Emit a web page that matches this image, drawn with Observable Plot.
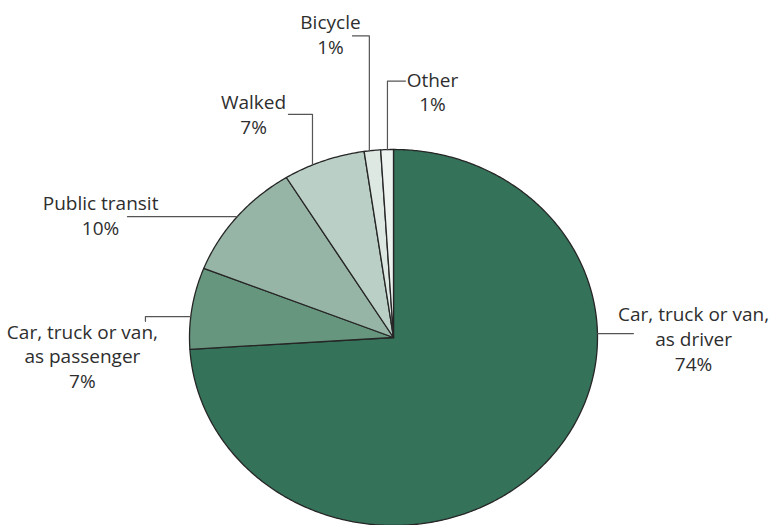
<!DOCTYPE html>
<html>
<head>
<meta charset="utf-8">
<script src="https://cdn.jsdelivr.net/npm/d3@7"></script>
<script src="https://cdn.jsdelivr.net/npm/@observablehq/plot@0.6"></script>
<style>
  html, body { margin: 0; padding: 0; background: #fff; }
  #chart svg { display: block; }
</style>
</head>
<body>
<div id="chart"></div>
<script>
// ---- data ----
const categories = [
  "Car, truck or van, as driver",
  "Car, truck or van, as passenger",
  "Public transit",
  "Walked",
  "Bicycle",
  "Other"
];
const shares = [74, 7, 10.2, 6.5, 1.3, 1.0];          // percent (estimated)
const shareLabels = ["74%", "7%", "10%", "7%", "1%", "1%"];
const labelNames = [
  "Car, truck or van,\nas driver",
  "Car, truck or van,\nas passenger",
  "Public transit",
  "Walked",
  "Bicycle",
  "Other"
];
const colors = ["#34725a", "#67967f", "#97b5a6", "#bacfc5", "#dde8e3", "#eef3f0"];

// ---- layout (data units: radius = 1) ----
const W = 771, H = 525;
const cx = 393, cy = 337, rx = 204, ry = 188;
// leader attach angle (deg, clockwise from top) and path after it; label centre
const leaders = [
  {angle: 88.8,  path: [[1.176, null]],              label: [1.471, -0.004]},
  {angle: 276.4, path: [[-1.216, null], [-1.216, 0.086]], label: [-1.525, -0.096]},
  {angle: 310.0, path: [[-1.304, null]],             label: [-1.436, 0.655]},
  {angle: 336.6, path: [[null, 1.187], [-0.515, 1.187]], label: [-0.686, 1.190]},
  {angle: 353.2, path: [[null, 1.604], [-0.201, 1.604]], label: [-0.309, 1.615]},
  {angle: 358.3, path: [[null, 1.364], [0.059, 1.364]],  label: [0.191, 1.310]}
];

// ---- build slices ----
const total = d3.sum(shares);
let acc = 0;
const slices = categories.map((c, i) => {
  const a0 = acc / total * 360;
  acc += shares[i];
  const a1 = acc / total * 360;
  const pts = [{x: 0, y: 0}];
  const n = Math.max(2, Math.ceil((a1 - a0) / 0.5));
  for (let k = 0; k <= n; k++) {
    const a = (a0 + (a1 - a0) * k / n) * Math.PI / 180;
    pts.push({x: Math.sin(a), y: Math.cos(a)});
  }
  pts.push({x: 0, y: 0});
  return {cat: c, color: colors[i], pts};
});

const leaderPts = [];
leaders.forEach((L, i) => {
  const a = L.angle * Math.PI / 180;
  let px = Math.sin(a), py = Math.cos(a);
  leaderPts.push({k: i, x: px, y: py});
  L.path.forEach(([x, y]) => {
    px = x == null ? px : x;
    py = y == null ? py : y;
    leaderPts.push({k: i, x: px, y: py});
  });
});
const labels = categories.map((c, i) => ({
  x: leaders[i].label[0], y: leaders[i].label[1],
  text: labelNames[i] + "\n" + shareLabels[i]
}));

const chart = Plot.plot({
  width: W, height: H,
  margin: 0,
  style: {fontFamily: "'Open Sans', sans-serif", background: "#fff"},
  x: {domain: [-cx / rx, (W - cx) / rx], range: [0, W], axis: null},
  y: {domain: [-(H - cy) / ry, cy / ry], range: [H, 0], axis: null},
  marks: [
    ...slices.map(s => Plot.line(s.pts, {
      x: "x", y: "y", fill: s.color, stroke: "#262626", strokeWidth: 1.3,
      strokeLinejoin: "round", curve: "linear"
    })),
    Plot.line(leaderPts, {x: "x", y: "y", z: "k", stroke: "#555", strokeWidth: 1.2}),
    Plot.text(labels, {
      x: "x", y: "y", text: "text", fontSize: 19, lineHeight: 1.3,
      fill: "#2e2e2e", textAnchor: "middle", lineAnchor: "middle"
    })
  ]
});
document.getElementById("chart").appendChild(chart);
</script>
</body>
</html>
